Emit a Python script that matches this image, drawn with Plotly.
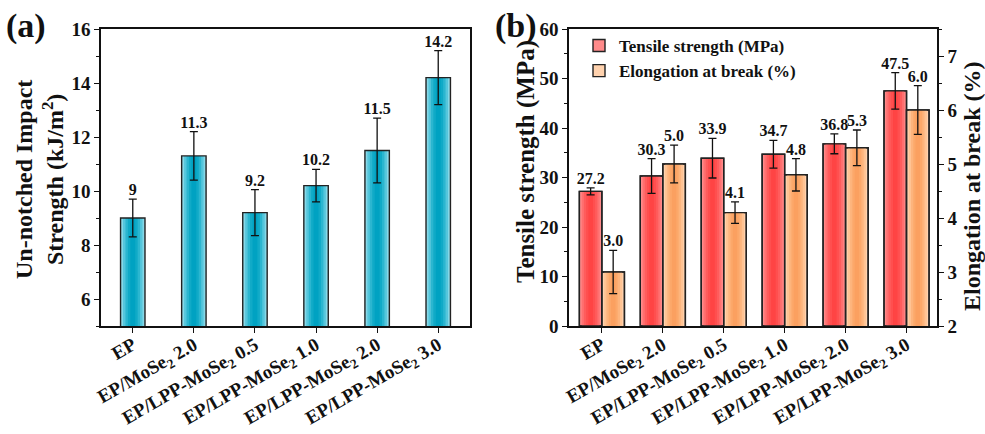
import plotly.graph_objects as go

# ---------------- data ----------------
categories = ["EP", "EP/MoSe<sub>2</sub> 2.0", "EP/LPP-MoSe<sub>2</sub> 0.5",
              "EP/LPP-MoSe<sub>2</sub> 1.0", "EP/LPP-MoSe<sub>2</sub> 2.0",
              "EP/LPP-MoSe<sub>2</sub> 3.0"]
impact = [9.0, 11.3, 9.2, 10.2, 11.5, 14.2]
impact_err = [0.7, 0.9, 0.85, 0.6, 1.2, 1.0]
impact_labels = ["9", "11.3", "9.2", "10.2", "11.5", "14.2"]

tensile = [27.2, 30.3, 33.9, 34.7, 36.8, 47.5]
tensile_err = [0.7, 3.5, 4.0, 2.8, 2.0, 3.7]
tensile_labels = ["27.2", "30.3", "33.9", "34.7", "36.8", "47.5"]

elong = [3.0, 5.0, 4.1, 4.8, 5.3, 6.0]
elong_err = [0.4, 0.35, 0.2, 0.3, 0.33, 0.45]
elong_labels = ["3.0", "5.0", "4.1", "4.8", "5.3", "6.0"]

series_names = ["Tensile strength (MPa)", "Elongation at break (%)"]

# ---------------- style ----------------
FONT = "Liberation Serif"
W, H = 985, 434
xpos = list(range(len(categories)))


def px_x(p):
    return p / W


def px_y(p):
    return 1 - p / H


fig = go.Figure()


def grad_bars(xs, ys, center, width, colors, xa, ya, name=None, legend=False):
    n = len(colors)
    for k, c in enumerate(colors):
        f = 1 - k / n
        w = width * f
        fig.add_trace(go.Bar(
            x=xs, y=ys, width=[w] * len(xs), offset=[center - w / 2] * len(xs),
            marker=dict(color=c, line=dict(width=1.4 if (k == 0 and legend) else 0,
                                           color="#222")),
            xaxis=xa, yaxis=ya, name=name, showlegend=(legend and k == 0),
            hoverinfo="skip"))
    fig.add_trace(go.Bar(
        x=xs, y=ys, width=[width] * len(xs), offset=[center - width / 2] * len(xs),
        marker=dict(color="rgba(0,0,0,0)", line=dict(width=1.4, color="#222")),
        xaxis=xa, yaxis=ya, showlegend=False, hoverinfo="skip"))


def err_and_text(xs, ys, errs, labels, xa, ya, tsize=16):
    fig.add_trace(go.Scatter(
        x=xs, y=ys, mode="markers", marker=dict(size=1, color="rgba(0,0,0,0)"),
        error_y=dict(type="data", array=errs, visible=True, color="#111",
                     thickness=1.3, width=4),
        xaxis=xa, yaxis=ya, showlegend=False, hoverinfo="skip"))
    fig.add_trace(go.Scatter(
        x=xs, y=[y + e for y, e in zip(ys, errs)], mode="text",
        text=labels, textposition="top center",
        textfont=dict(family=FONT, size=tsize, color="#111", weight="bold"),
        xaxis=xa, yaxis=ya, showlegend=False, hoverinfo="skip"))


# Panel (a)
cyan = ["#86d8e8", "#55c6dc", "#2bb6d0", "#10aac7", "#00a2c2"]
grad_bars(xpos, impact, 0.0, 0.40, cyan, "x", "y")
err_and_text(xpos, impact, impact_err, impact_labels, "x", "y")

# Panel (b)
BW = 0.37
red = ["#ff8a8a", "#ff7070", "#ff5c5c", "#ff4f4f", "#ff4444"]
orange = ["#ffd2ae", "#ffc393", "#fdb47c", "#fca86a", "#fba060"]
grad_bars(xpos, tensile, -BW / 2, BW, red, "x2", "y2", series_names[0], True)
grad_bars(xpos, elong, BW / 2, BW, orange, "x2", "y3", series_names[1], True)
err_and_text([x - BW / 2 for x in xpos], tensile, tensile_err, tensile_labels, "x2", "y2")
err_and_text([x + BW / 2 for x in xpos], elong, elong_err, elong_labels, "x2", "y3")

ticktext = ["<b>" + c + "</b>" for c in categories]
ydom = [px_y(326), px_y(29)]

xcommon = dict(tickvals=xpos, ticktext=ticktext, tickangle=-30, ticks="outside",
               ticklen=5, tickwidth=1.3, tickcolor="#111", showline=True,
               linecolor="#111", linewidth=1.5, mirror=True, showgrid=False,
               zeroline=False, automargin=False, ticklabelstandoff=-6,
               tickfont=dict(family=FONT, size=19, color="#111"))
ycommon = dict(ticks="outside", ticklen=5, tickwidth=1.3, tickcolor="#111",
               showline=True, linecolor="#111", linewidth=1.5, showgrid=False,
               zeroline=False, automargin=False,
               tickfont=dict(family=FONT, size=19, color="#111", weight="bold"))

fig.update_layout(
    width=W, height=H, margin=dict(l=0, r=0, t=0, b=0, autoexpand=False),
    paper_bgcolor="white", plot_bgcolor="white", barmode="overlay",
    font=dict(family=FONT, color="#111"),
    xaxis=dict(domain=[px_x(101), px_x(470)], range=[-0.52, 5.52], anchor="y",
               **xcommon),
    yaxis=dict(domain=ydom, range=[5, 16], dtick=2, anchor="x", mirror=True,
               minor=dict(dtick=1, ticks="outside", ticklen=3, tickcolor="#111"),
               **ycommon),
    xaxis2=dict(domain=[px_x(569), px_x(937)], range=[-0.54, 5.5], anchor="y2",
                **xcommon),
    yaxis2=dict(domain=ydom, range=[0, 60], dtick=10, anchor="x2",
                minor=dict(dtick=5, ticks="outside", ticklen=3, tickcolor="#111"),
                **ycommon),
    yaxis3=dict(range=[2, 7.5], dtick=1, overlaying="y2", side="right", anchor="x2",
                minor=dict(dtick=0.5, ticks="outside", ticklen=3, tickcolor="#111"),
                **ycommon),
    legend=dict(x=px_x(579), y=px_y(28), xanchor="left", yanchor="top",
                bgcolor="rgba(0,0,0,0)", font=dict(family=FONT, size=17,
                                                   color="#111", weight="bold"),
                tracegroupgap=0, itemwidth=30),
)


def title(x, y, text, size):
    fig.add_annotation(x=px_x(x), y=px_y(y), textangle=-90, text=text,
                       xanchor="center", yanchor="middle",
                       font=dict(family=FONT, size=size, color="#111", weight="bold"),
                       showarrow=False, xref="paper", yref="paper")


title(39, 180, "Un-notched Impact<br>Strength (kJ/m<sup>2</sup>)", 24)
title(526, 162, "Tensile strength (MPa)", 25)
title(972, 186, "Elongation at break (%)", 24)

for lx, lt in [(26, "(a)"), (516, "(b)")]:
    fig.add_annotation(x=px_x(lx), y=px_y(26), xanchor="center", yanchor="middle",
                       text=lt, font=dict(family=FONT, size=34, color="#111",
                                          weight="bold"),
                       showarrow=False, xref="paper", yref="paper")

fig.write_html("out.html", config={"displayModeBar": False},
               post_script="document.body.style.margin='0';"
                           "document.body.style.overflow='hidden';")
